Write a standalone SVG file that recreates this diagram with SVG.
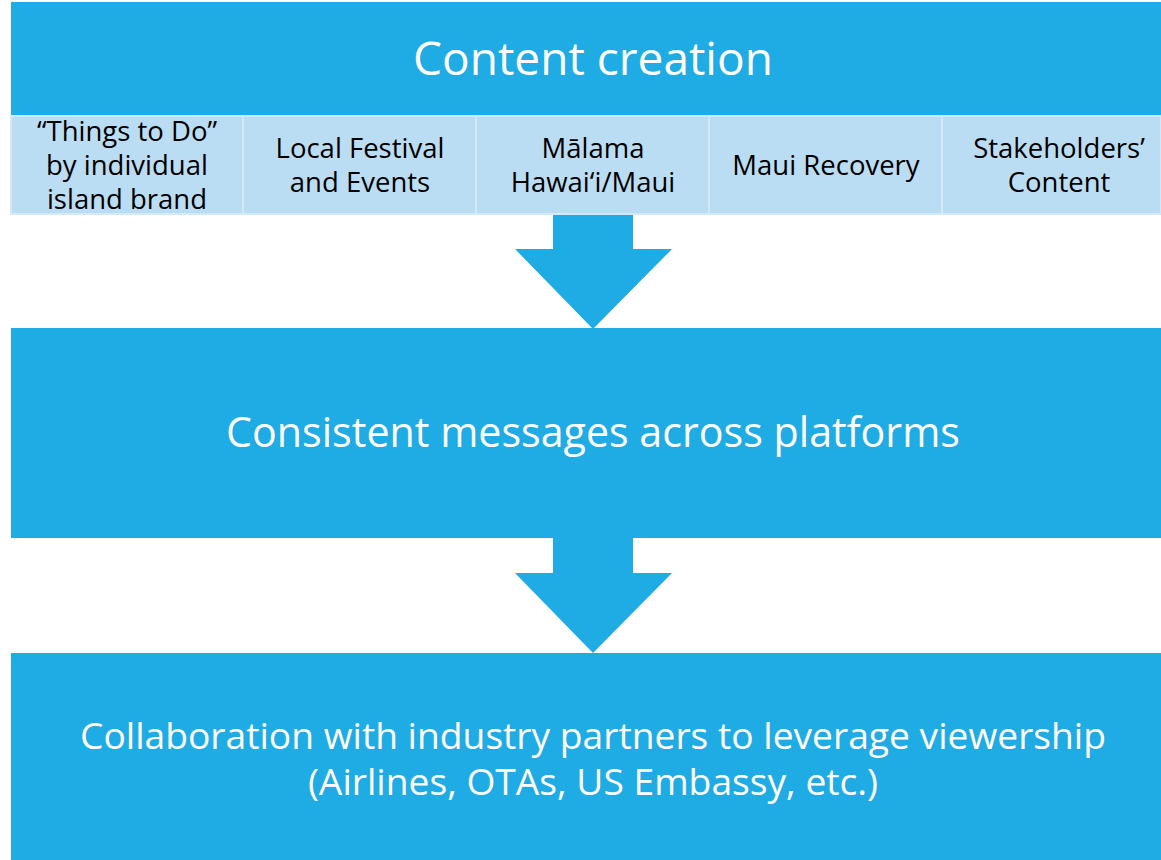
<svg xmlns="http://www.w3.org/2000/svg" width="1161" height="860" viewBox="0 0 1161 860">
<style>
.blue{fill:#1FABE3}
.cell{fill:#BBDDF3;stroke:#D2E9F8;stroke-width:2}
.big{font-family:"Open Sans","Liberation Sans",sans-serif;fill:#FFFFFF;text-anchor:middle;dominant-baseline:central}
.small{font-family:"Open Sans","Liberation Sans",sans-serif;fill:#000000;text-anchor:middle;dominant-baseline:central;font-size:27.5px}
</style>
<rect width="1161" height="860" fill="#FFFFFF"/>
<g id="content-creation">
<rect class="blue" x="11" y="2" width="1150" height="114"/>
<text class="big" x="593" y="57" font-size="46">Content creation</text>
</g>
<g id="things-to-do">
<rect class="cell" x="11" y="116" width="232" height="98"/>
<text class="small" x="127" y="130">“Things to Do”</text>
<text class="small" x="127" y="164">by individual</text>
<text class="small" x="127" y="198">island brand</text>
</g>
<g id="local-festival">
<rect class="cell" x="243" y="116" width="233" height="98"/>
<text class="small" x="360" y="147">Local Festival</text>
<text class="small" x="360" y="181">and Events</text>
</g>
<g id="malama">
<rect class="cell" x="476" y="116" width="233" height="98"/>
<text class="small" x="593" y="147">Mālama</text>
<text class="small" x="593" y="181">Hawai‘i/Maui</text>
</g>
<g id="maui-recovery">
<rect class="cell" x="709" y="116" width="233" height="98"/>
<text class="small" x="826" y="164">Maui Recovery</text>
</g>
<g id="stakeholders">
<rect class="cell" x="942" y="116" width="219" height="98"/>
<text class="small" x="1059" y="147">Stakeholders’</text>
<text class="small" x="1059" y="181">Content</text>
</g>
<g id="connectors">
<polygon class="blue" points="553,215 633,215 633,249 672,249 593,329 515,249 553,249"/>
<polygon class="blue" points="553,538 633,538 633,573 672,573 593,653 515,573 553,573"/>
</g>
<g id="consistent-messages">
<rect class="blue" x="11" y="328" width="1150" height="210"/>
<text class="big" x="593" y="431" font-size="41.2">Consistent messages across platforms</text>
</g>
<g id="collaboration">
<rect class="blue" x="11" y="653" width="1150" height="207"/>
<text class="big" x="593" y="734" font-size="37.2">Collaboration with industry partners to leverage viewership</text>
<text class="big" x="593" y="780" font-size="37.2">(Airlines, OTAs, US Embassy, etc.)</text>
</g>
</svg>
